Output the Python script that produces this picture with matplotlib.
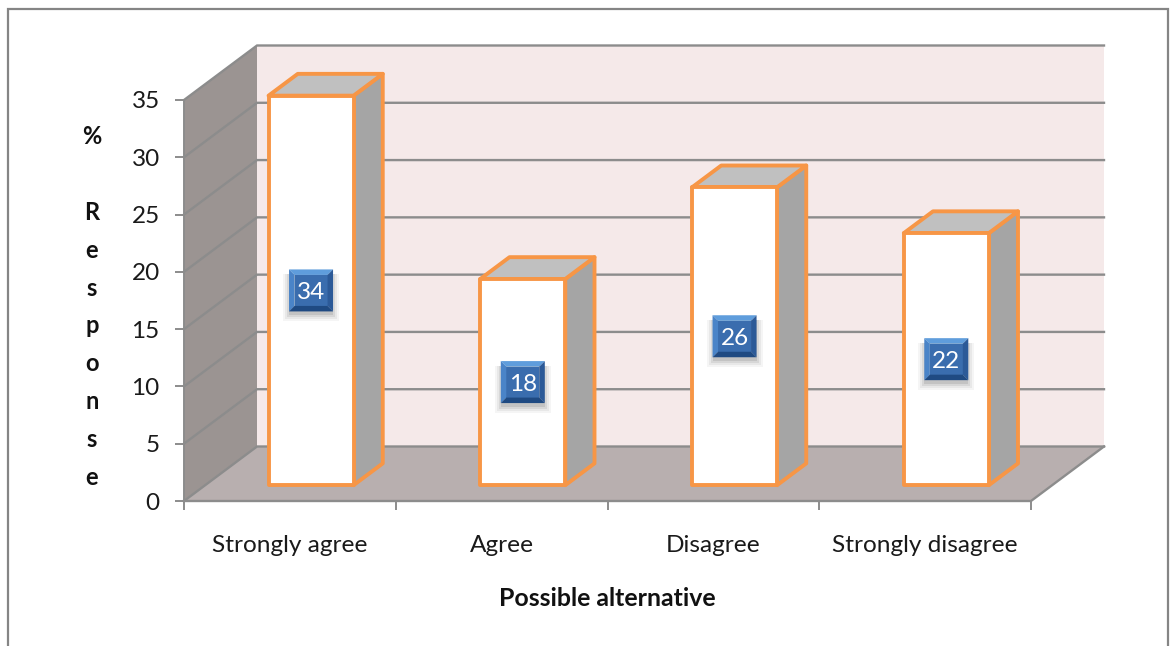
import matplotlib
matplotlib.use("Agg")
import matplotlib.pyplot as plt
from matplotlib.lines import Line2D
from matplotlib.patches import Polygon

categories = ["Strongly agree", "Agree", "Disagree", "Strongly disagree"]
values = [34, 18, 26, 22]
y_ticks = [0, 5, 10, 15, 20, 25, 30, 35]
x_title = "Possible alternative"
y_title = "%\n\nR\ne\ns\np\no\nn\ns\ne"

plt.rcParams["font.family"] = ["Lato", "DejaVu Sans"]
W, H = 1170, 646
fig = plt.figure(figsize=(W / 100, H / 100), dpi=100, facecolor="white")
ax = fig.add_axes([184 / W, (H - 501) / H, 847 / W, 401 / H])
ax.set_xlim(-0.5, 3.5)
ax.set_ylim(0, 35)
ax.patch.set_visible(False)
for s in ["top", "right", "bottom"]:
    ax.spines[s].set_visible(False)
ax.spines["left"].set_color("#8c8c8c")
ax.spines["left"].set_linewidth(1.4)

PXX = 4 / 847   # data units per pixel
PXY = 35 / 401
DX, DY = 73 * PXX, 54.5 * PXY  # full depth of the 3-D box


def poly(pts, fc, ec="none", lw=0, z=1, alpha=None):
    ax.add_patch(Polygon(pts, closed=True, facecolor=fc, edgecolor=ec, linewidth=lw,
                         zorder=z, alpha=alpha, clip_on=False, joinstyle="round"))


x0, x1 = -0.5, 3.5
top = y_ticks[-1]
# walls
poly([(x0 + DX, DY), (x1 + DX, DY), (x1 + DX, top + DY), (x0 + DX, top + DY)], "#f5e9e9", z=1)
poly([(x0, 0), (x0 + DX, DY), (x0 + DX, top + DY), (x0, top)], "#9b9492", z=1)
poly([(x0, 0), (x1, 0), (x1 + DX, DY), (x0 + DX, DY)], "#b8afaf", z=1)

GRID = "#8c8c8c"
for t in y_ticks:
    ax.plot([x0, x0 + DX, x1 + DX], [t, t + DY, t + DY], color=GRID, lw=1.7, zorder=2,
            clip_on=False, solid_joinstyle="miter")
ax.plot([x0, x1, x1 + DX], [0, 0, DY], color=GRID, lw=1.7, zorder=2, clip_on=False)

# bars
FRONT, BACK = 0.29, 0.69
BW = 85 * PXX
ORANGE = "#f79646"
for i, v in enumerate(values):
    l = i + FRONT * DX - BW / 2
    r = l + BW
    b = FRONT * DY
    t = b + v
    ddx = (BACK - FRONT) * DX
    ddy = (BACK - FRONT) * DY
    poly([(r, b), (r + ddx, b + ddy), (r + ddx, t + ddy), (r, t)], "#a5a5a5", ORANGE, 2.8, 3)
    poly([(l, t), (r, t), (r + ddx, t + ddy), (l + ddx, t + ddy)], "#c0c0c0", ORANGE, 2.8, 3)
    poly([(l, b), (r, b), (r, t), (l, t)], "white", ORANGE, 2.8, 4)

    # value label box with bevel and soft shadow
    cx, cy = i + FRONT * DX, b + v / 2
    hw, hh = 22 * PXX, 21 * PXY
    bev_x, bev_y = 5.5 * PXX, 5.5 * PXY
    for g, a in [(7, 0.04), (5, 0.05), (3, 0.07), (1, 0.09)]:
        gx, gy = g * PXX, g * PXY
        poly([(cx - hw - gx + PXX, cy - hh - gy - 3 * PXY), (cx + hw + gx - PXX, cy - hh - gy - 3 * PXY),
              (cx + hw + gx - PXX, cy + hh - 5 * PXY), (cx - hw - gx + PXX, cy + hh - 5 * PXY)],
             "black", z=5, alpha=a)
    il, ir, ib, it = cx - hw + bev_x, cx + hw - bev_x, cy - hh + bev_y, cy + hh - bev_y
    ol, or_, ob, ot = cx - hw, cx + hw, cy - hh, cy + hh
    poly([(il, ib), (ir, ib), (ir, it), (il, it)], "#3a6dae", z=6)
    poly([(ol, ot), (or_, ot), (ir, it), (il, it)], "#5f9ddc", z=6)
    poly([(ol, ob), (ol, ot), (il, it), (il, ib)], "#4a84c8", z=6)
    poly([(or_, ob), (or_, ot), (ir, it), (ir, ib)], "#2c5a98", z=6)
    poly([(ol, ob), (or_, ob), (ir, ib), (il, ib)], "#1f4a82", z=6)
    ax.text(cx, cy, str(v), color="white", fontsize=17.5, ha="center", va="center_baseline", zorder=7)

# ticks
ax.set_yticks(y_ticks)
ax.tick_params(axis="y", length=6.5, width=1.4, color=GRID, labelsize=17.5, pad=11, labelcolor="#1a1a1a")
ax.set_xticks([x0 + k for k in range(5)])
ax.set_xticklabels([])
ax.tick_params(axis="x", which="major", length=6.5, width=1.4, color=GRID)
ax.set_xticks(range(4), minor=True)
ax.set_xticklabels(categories, minor=True, fontsize=17.6, color="#1a1a1a")
ax.tick_params(axis="x", which="minor", length=0, pad=24.5)

fig.text(607 / W, 1 - 599 / H, x_title, fontsize=17.9, fontweight="bold", ha="center", va="center", color="#111111")
fig.text(92 / W, 1 - 307 / H, y_title, fontsize=17, fontweight="bold", ha="center", va="center",
         color="#111111", linespacing=1.78)

# outer chart frame (open at the bottom)
fx0, fx1, fy = 8 / W, 1168 / W, 1 - 9 / H
fig.add_artist(Line2D([fx0, fx0, fx1, fx1], [0, fy, fy, 0], transform=fig.transFigure,
                      color="#858585", lw=1.6, solid_joinstyle="miter"))

fig.savefig("out.png", dpi=100, facecolor="white")
